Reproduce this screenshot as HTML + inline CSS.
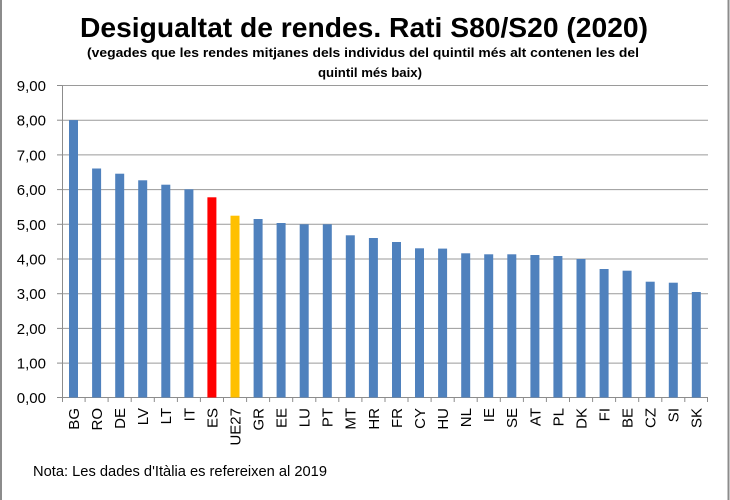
<!DOCTYPE html>
<html><head><meta charset="utf-8"><style>
html,body{margin:0;padding:0;background:#fff;}
svg{display:block;}
text{font-family:"Liberation Sans",sans-serif;fill:#000;}
</style></head><body>
<svg width="730" height="500" viewBox="0 0 730 500" xmlns="http://www.w3.org/2000/svg">
<rect x="0" y="0" width="730" height="500" fill="#fff"/>
<rect x="0" y="0" width="2" height="500" fill="#8c8c8c"/>
<rect x="727.5" y="0" width="2" height="500" fill="#8c8c8c"/>

<text x="364" y="37" font-size="28" font-weight="bold" text-anchor="middle" textLength="568" lengthAdjust="spacingAndGlyphs">Desigualtat de rendes. Rati S80/S20 (2020)</text>
<text x="363" y="57" font-size="13" font-weight="bold" text-anchor="middle" textLength="552" lengthAdjust="spacingAndGlyphs">(vegades que les rendes mitjanes dels individus del quintil més alt contenen les del</text>
<text x="370" y="77" font-size="13" font-weight="bold" text-anchor="middle" textLength="104" lengthAdjust="spacingAndGlyphs">quintil més baix)</text>

<g stroke="#9a9a9a" stroke-width="1">
<line x1="62" y1="85.5" x2="708" y2="85.5"/>
<line x1="62" y1="120.2" x2="708" y2="120.2"/>
<line x1="62" y1="154.9" x2="708" y2="154.9"/>
<line x1="62" y1="189.6" x2="708" y2="189.6"/>
<line x1="62" y1="224.3" x2="708" y2="224.3"/>
<line x1="62" y1="259" x2="708" y2="259"/>
<line x1="62" y1="293.7" x2="708" y2="293.7"/>
<line x1="62" y1="328.4" x2="708" y2="328.4"/>
<line x1="62" y1="363.1" x2="708" y2="363.1"/>
</g>
<g stroke="#8c8c8c" stroke-width="1">
<line x1="62.5" y1="85.5" x2="62.5" y2="397.5"/>
<line x1="57" y1="85.5" x2="62" y2="85.5"/>
<line x1="57" y1="120.2" x2="62" y2="120.2"/>
<line x1="57" y1="154.9" x2="62" y2="154.9"/>
<line x1="57" y1="189.6" x2="62" y2="189.6"/>
<line x1="57" y1="224.3" x2="62" y2="224.3"/>
<line x1="57" y1="259" x2="62" y2="259"/>
<line x1="57" y1="293.7" x2="62" y2="293.7"/>
<line x1="57" y1="328.4" x2="62" y2="328.4"/>
<line x1="57" y1="363.1" x2="62" y2="363.1"/>
<line x1="57" y1="397.5" x2="708" y2="397.5"/>
</g>

<g font-size="15" text-anchor="end">
<text x="46" y="91">9,00</text>
<text x="46" y="125.7">8,00</text>
<text x="46" y="160.4">7,00</text>
<text x="46" y="195.1">6,00</text>
<text x="46" y="229.8">5,00</text>
<text x="46" y="264.5">4,00</text>
<text x="46" y="299.2">3,00</text>
<text x="46" y="333.9">2,00</text>
<text x="46" y="368.6">1,00</text>
<text x="46" y="403">0,00</text>
</g>

<g id="bars"></g>
<g id="ticks" stroke="#8c8c8c" stroke-width="1"></g>
<g id="labels" font-size="15" text-anchor="end"></g>

<text x="33" y="476" font-size="15" textLength="294" lengthAdjust="spacingAndGlyphs">Nota: Les dades d'Itàlia es refereixen al 2019</text>

<!-- bars drawn statically -->
<g>
<rect x="69" y="120.1" width="9" height="277.4" fill="#4F81BD"/>
<rect x="92.1" y="168.5" width="9" height="229" fill="#4F81BD"/>
<rect x="115.2" y="173.7" width="9" height="223.8" fill="#4F81BD"/>
<rect x="138.2" y="180.3" width="9" height="217.2" fill="#4F81BD"/>
<rect x="161.3" y="184.7" width="9" height="212.8" fill="#4F81BD"/>
<rect x="184.4" y="189.3" width="9" height="208.2" fill="#4F81BD"/>
<rect x="207.4" y="197.3" width="9" height="200.2" fill="#FF0000"/>
<rect x="230.5" y="215.7" width="9" height="181.8" fill="#FFC000"/>
<rect x="253.6" y="219" width="9" height="178.5" fill="#4F81BD"/>
<rect x="276.6" y="223" width="9" height="174.5" fill="#4F81BD"/>
<rect x="299.7" y="224.3" width="9" height="173.2" fill="#4F81BD"/>
<rect x="322.8" y="224.3" width="9" height="173.2" fill="#4F81BD"/>
<rect x="345.8" y="235.3" width="9" height="162.2" fill="#4F81BD"/>
<rect x="368.9" y="238" width="9" height="159.5" fill="#4F81BD"/>
<rect x="392" y="242" width="9" height="155.5" fill="#4F81BD"/>
<rect x="415" y="248.3" width="9" height="149.2" fill="#4F81BD"/>
<rect x="438.1" y="248.6" width="9" height="148.9" fill="#4F81BD"/>
<rect x="461.2" y="253.3" width="9" height="144.2" fill="#4F81BD"/>
<rect x="484.2" y="254.3" width="9" height="143.2" fill="#4F81BD"/>
<rect x="507.3" y="254.3" width="9" height="143.2" fill="#4F81BD"/>
<rect x="530.4" y="255" width="9" height="142.5" fill="#4F81BD"/>
<rect x="553.4" y="256" width="9" height="141.5" fill="#4F81BD"/>
<rect x="576.5" y="259" width="9" height="138.5" fill="#4F81BD"/>
<rect x="599.6" y="269" width="9" height="128.5" fill="#4F81BD"/>
<rect x="622.6" y="270.7" width="9" height="126.8" fill="#4F81BD"/>
<rect x="645.7" y="281.7" width="9" height="115.8" fill="#4F81BD"/>
<rect x="668.8" y="282.7" width="9" height="114.8" fill="#4F81BD"/>
<rect x="691.8" y="292" width="9" height="105.5" fill="#4F81BD"/>
</g>

<g stroke="#8c8c8c" stroke-width="1">
<line x1="62.5" y1="397.5" x2="62.5" y2="402"/>
<line x1="85.1" y1="397.5" x2="85.1" y2="402"/>
<line x1="108.1" y1="397.5" x2="108.1" y2="402"/>
<line x1="131.2" y1="397.5" x2="131.2" y2="402"/>
<line x1="154.3" y1="397.5" x2="154.3" y2="402"/>
<line x1="177.4" y1="397.5" x2="177.4" y2="402"/>
<line x1="200.4" y1="397.5" x2="200.4" y2="402"/>
<line x1="223.5" y1="397.5" x2="223.5" y2="402"/>
<line x1="246.6" y1="397.5" x2="246.6" y2="402"/>
<line x1="269.6" y1="397.5" x2="269.6" y2="402"/>
<line x1="292.7" y1="397.5" x2="292.7" y2="402"/>
<line x1="315.8" y1="397.5" x2="315.8" y2="402"/>
<line x1="338.8" y1="397.5" x2="338.8" y2="402"/>
<line x1="361.9" y1="397.5" x2="361.9" y2="402"/>
<line x1="385" y1="397.5" x2="385" y2="402"/>
<line x1="408" y1="397.5" x2="408" y2="402"/>
<line x1="431.1" y1="397.5" x2="431.1" y2="402"/>
<line x1="454.2" y1="397.5" x2="454.2" y2="402"/>
<line x1="477.2" y1="397.5" x2="477.2" y2="402"/>
<line x1="500.3" y1="397.5" x2="500.3" y2="402"/>
<line x1="523.4" y1="397.5" x2="523.4" y2="402"/>
<line x1="546.4" y1="397.5" x2="546.4" y2="402"/>
<line x1="569.5" y1="397.5" x2="569.5" y2="402"/>
<line x1="592.6" y1="397.5" x2="592.6" y2="402"/>
<line x1="615.6" y1="397.5" x2="615.6" y2="402"/>
<line x1="638.7" y1="397.5" x2="638.7" y2="402"/>
<line x1="661.8" y1="397.5" x2="661.8" y2="402"/>
<line x1="684.8" y1="397.5" x2="684.8" y2="402"/>
<line x1="707.5" y1="397.5" x2="707.5" y2="402"/>
</g>

<g font-size="15" text-anchor="end">
<text transform="translate(79,408) rotate(-90)">BG</text>
<text transform="translate(102,408) rotate(-90)">RO</text>
<text transform="translate(125.1,408) rotate(-90)">DE</text>
<text transform="translate(148.1,408) rotate(-90)">LV</text>
<text transform="translate(171.2,408) rotate(-90)">LT</text>
<text transform="translate(194.3,408) rotate(-90)">IT</text>
<text transform="translate(217.3,408) rotate(-90)">ES</text>
<text transform="translate(240.4,408) rotate(-90)">UE27</text>
<text transform="translate(263.5,408) rotate(-90)">GR</text>
<text transform="translate(286.5,408) rotate(-90)">EE</text>
<text transform="translate(309.6,408) rotate(-90)">LU</text>
<text transform="translate(332.7,408) rotate(-90)">PT</text>
<text transform="translate(355.7,408) rotate(-90)">MT</text>
<text transform="translate(378.8,408) rotate(-90)">HR</text>
<text transform="translate(401.9,408) rotate(-90)">FR</text>
<text transform="translate(424.9,408) rotate(-90)">CY</text>
<text transform="translate(448,408) rotate(-90)">HU</text>
<text transform="translate(471.1,408) rotate(-90)">NL</text>
<text transform="translate(494.1,408) rotate(-90)">IE</text>
<text transform="translate(517.2,408) rotate(-90)">SE</text>
<text transform="translate(540.3,408) rotate(-90)">AT</text>
<text transform="translate(563.3,408) rotate(-90)">PL</text>
<text transform="translate(586.4,408) rotate(-90)">DK</text>
<text transform="translate(609.5,408) rotate(-90)">FI</text>
<text transform="translate(632.5,408) rotate(-90)">BE</text>
<text transform="translate(655.6,408) rotate(-90)">CZ</text>
<text transform="translate(678.7,408) rotate(-90)">SI</text>
<text transform="translate(701.7,408) rotate(-90)">SK</text>
</g>
</svg>
</body></html>
